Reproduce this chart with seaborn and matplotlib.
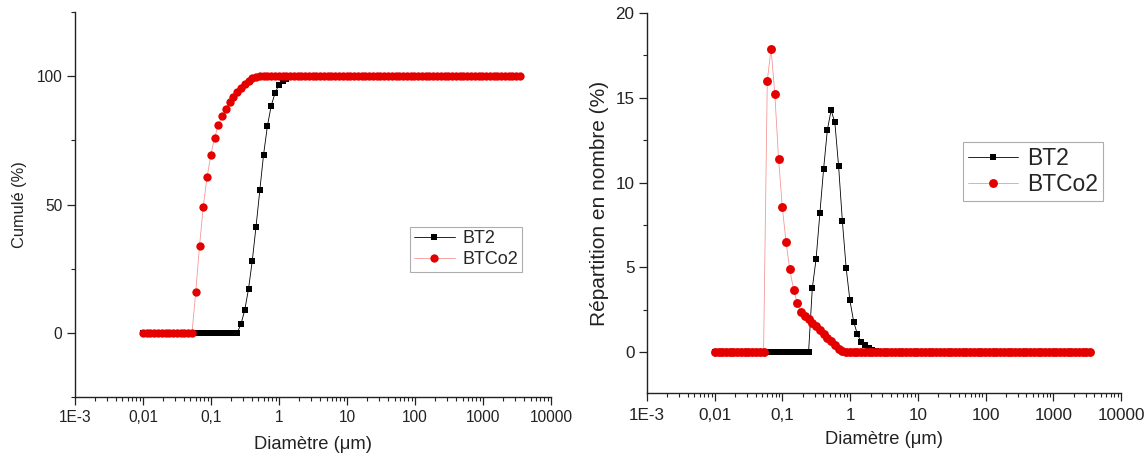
import matplotlib
matplotlib.use("Agg")
import matplotlib.pyplot as plt
from matplotlib.ticker import FixedLocator, FixedFormatter, LogLocator, MultipleLocator
import seaborn as sns

sns.set_style("ticks")
plt.rcParams['font.family'] = ['Liberation Sans', 'DejaVu Sans']

# classes de taille (µm)
diametre = [0.0100, 0.0114, 0.0129, 0.0147, 0.0167, 0.0189, 0.0215, 0.0244, 0.0278, 0.0315,
            0.0358, 0.0407, 0.0463, 0.0526, 0.0597, 0.0679, 0.0771, 0.0876, 0.0995, 0.113,
            0.128, 0.146, 0.166, 0.188, 0.214, 0.243, 0.276, 0.314, 0.357, 0.405,
            0.460, 0.523, 0.594, 0.675, 0.767, 0.872, 0.991, 1.13, 1.28, 1.45,
            1.65, 1.88, 2.13, 2.42, 2.75, 3.12, 3.55, 4.03, 4.58, 5.21,
            5.92, 6.72, 7.64, 8.68, 9.86, 11.2, 12.7, 14.5, 16.4, 18.7,
            21.2, 24.1, 27.4, 31.1, 35.3, 40.1, 45.6, 51.8, 58.9, 66.9,
            76.0, 86.4, 98.1, 111, 127, 144, 163, 186, 211, 240,
            272, 310, 352, 400, 454, 516, 586, 666, 756, 859,
            976, 1110, 1260, 1430, 1630, 1850, 2100, 2390, 2710, 3080, 3500]

# cumulé (%)
bt2_cumul = [0.0] * 26 + [3.4, 8.9, 17.2, 28.1, 41.4, 55.6, 69.5, 80.5, 88.4, 93.3,
                          96.5, 98.1, 99.1, 99.6, 99.9] + [100.0] * 60
btco2_cumul = [0.0] * 14 + [15.8, 33.9, 49.2, 60.6, 69.3, 76.0, 80.9, 84.4, 87.4, 89.8,
                            91.9, 93.9, 95.6, 97.1, 98.3, 99.2, 99.7, 99.9] + [100.0] * 69

# répartition en nombre (%)
bt2_nombre = [0.0] * 26 + [3.78, 5.51, 8.2, 10.8, 13.1, 14.27, 13.55, 10.96, 7.73, 4.98,
                           3.06, 1.78, 1.06, 0.61, 0.41, 0.27, 0.16, 0.08, 0.03] + [0.0] * 56
btco2_nombre = [0.0] * 14 + [16.0, 17.9, 15.25, 11.4, 8.55, 6.5, 4.9, 3.7, 2.9, 2.37,
                             2.15, 1.95, 1.75, 1.55, 1.33, 1.1, 0.87, 0.64, 0.42, 0.22,
                             0.08, 0.02] + [0.0] * 65

xticks = [1e-3, 1e-2, 1e-1, 1, 10, 100, 1000, 10000]
xlabels = ['1E-3', '0,01', '0,1', '1', '10', '100', '1000', '10000']

fig = plt.figure(figsize=(11.46, 4.61), dpi=100)
ax1 = fig.add_axes([0.0654, 0.1388, 0.4154, 0.835])
ax2 = fig.add_axes([0.5646, 0.1475, 0.4136, 0.8243])


def trace(ax, y_bt2, y_btco2, ms_sq, ms_ci, tick_size, tick_pad):
    sns.lineplot(x=diametre, y=y_bt2, ax=ax, color='black', marker='s', markersize=ms_sq,
                 markeredgewidth=0, linewidth=0.6, label='BT2')
    sns.lineplot(x=diametre, y=y_btco2, ax=ax, color='#e00000', marker='o', markersize=ms_ci,
                 markeredgewidth=0, linewidth=0.6, label='BTCo2')
    # trait rouge plus clair que les points
    ligne = ax.lines[-1]
    ligne.set_color((0.9, 0.1, 0.1, 0.45))
    ligne.set_markerfacecolor('#e50000')
    ligne.set_markeredgecolor('#e50000')
    ax.set_xscale('log')
    ax.set_xlim(1e-3, 1e4)
    ax.xaxis.set_major_locator(FixedLocator(xticks))
    ax.xaxis.set_major_formatter(FixedFormatter(xlabels))
    ax.xaxis.set_minor_locator(LogLocator(base=10, subs=range(2, 10), numticks=20))
    ax.xaxis.set_minor_formatter(FixedFormatter([]))
    ax.tick_params(which='major', length=5.5, width=0.9, labelsize=tick_size,
                   color='#222222', labelcolor='#222222')
    ax.tick_params(axis='x', which='major', pad=tick_pad)
    ax.tick_params(which='minor', length=3, width=0.8, color='#222222')
    for s in ['top', 'right']:
        ax.spines[s].set_visible(False)
    for s in ['left', 'bottom']:
        ax.spines[s].set_linewidth(1.0)
        ax.spines[s].set_color('#222222')


trace(ax1, bt2_cumul, btco2_cumul, 4.3, 6.0, 11.2, 3.5)
ax1.set_ylim(-25, 125)
ax1.yaxis.set_major_locator(FixedLocator([0, 50, 100]))
ax1.yaxis.set_minor_locator(MultipleLocator(25))
ax1.set_xlabel('Diamètre (μm)', fontsize=13.2, labelpad=8, color='#222222')
ax1.set_ylabel('Cumulé (%)', fontsize=11.8, labelpad=7, color='#222222')
leg1 = ax1.legend(loc='upper left', bbox_to_anchor=(0.704, 0.442), fontsize=13,
                  frameon=True, fancybox=False, edgecolor='#999999', borderpad=0.2,
                  handlelength=2.3, handletextpad=0.4, labelspacing=0.2, borderaxespad=0)
leg1.get_frame().set_linewidth(0.8)

trace(ax2, bt2_nombre, btco2_nombre, 4.6, 6.4, 12.3, 5)
ax2.set_ylim(-2.4, 20)
ax2.yaxis.set_major_locator(FixedLocator([0, 5, 10, 15, 20]))
ax2.yaxis.set_minor_locator(MultipleLocator(2.5))
ax2.set_xlabel('Diamètre (μm)', fontsize=13.2, labelpad=6, color='#222222')
ax2.set_ylabel('Répartition en nombre (%)', fontsize=15, labelpad=5, color='#222222')
leg2 = ax2.legend(loc='upper left', bbox_to_anchor=(0.667, 0.66), fontsize=16.5,
                  frameon=True, fancybox=False, edgecolor='#999999', borderpad=0.2,
                  handlelength=2.2, handletextpad=0.4, labelspacing=0.15, borderaxespad=0)
leg2.get_frame().set_linewidth(0.8)

fig.savefig('out.png', dpi=100)
